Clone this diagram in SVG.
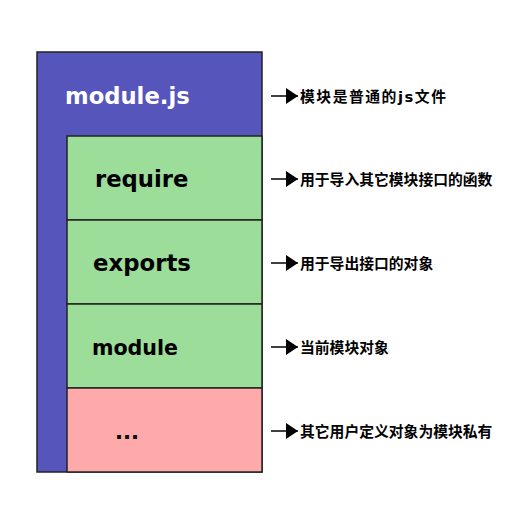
<svg xmlns="http://www.w3.org/2000/svg" width="525" height="525" viewBox="0 0 525 525">
<style>
.box{stroke:#222;stroke-width:1.5}
.lbl{font-family:"DejaVu Sans",sans-serif;font-weight:bold}
.note{font-family:"DejaVu Sans","Noto Sans CJK SC",sans-serif;font-weight:bold;font-size:14.8px;fill:#000}
.arr{stroke:#000;stroke-width:1.5;fill:none}
</style>
<defs>
<marker id="ah" viewBox="0 0 12 16" refX="12" refY="8" markerWidth="12" markerHeight="16" markerUnits="userSpaceOnUse" orient="auto">
<path d="M0,0 L12,8 L0,16 Z" fill="#000"/>
</marker>
</defs>
<rect width="525" height="525" fill="#fff"/>
<g id="module-js">
<rect class="box" x="37" y="52" width="225" height="420" fill="#5555bb"/>
<text class="lbl" x="65" y="104" font-size="22.7" fill="#fff">module.js</text>
</g>
<g id="require">
<rect class="box" x="67" y="136" width="195" height="84" fill="#9ddd9a"/>
<text class="lbl" x="95" y="187" font-size="22.7" fill="#000">require</text>
</g>
<g id="exports">
<rect class="box" x="67" y="220" width="195" height="84" fill="#9ddd9a"/>
<text class="lbl" x="93" y="271" font-size="22.8" fill="#000">exports</text>
</g>
<g id="module">
<rect class="box" x="67" y="304" width="195" height="84" fill="#9ddd9a"/>
<text class="lbl" x="92" y="355" font-size="20.6" fill="#000">module</text>
</g>
<g id="private">
<rect class="box" x="67" y="388" width="195" height="84" fill="#ffaaaa"/>
<text class="lbl" x="115" y="439" font-size="21" fill="#000">...</text>
</g>
<g id="connectors">
<line class="arr" x1="271" y1="96" x2="298" y2="96" marker-end="url(#ah)"/>
<line class="arr" x1="271" y1="179" x2="298" y2="179" marker-end="url(#ah)"/>
<line class="arr" x1="271" y1="263" x2="298" y2="263" marker-end="url(#ah)"/>
<line class="arr" x1="271" y1="347" x2="298" y2="347" marker-end="url(#ah)"/>
<line class="arr" x1="271" y1="431" x2="298" y2="431" marker-end="url(#ah)"/>
</g>
<g id="notes">
<text class="note" x="300" y="101.5" textLength="146" lengthAdjust="spacing">模块是普通的js文件</text>
<text class="note" x="300" y="184.5">用于导入其它模块接口的函数</text>
<text class="note" x="300" y="268.5">用于导出接口的对象</text>
<text class="note" x="300" y="352.5">当前模块对象</text>
<text class="note" x="300" y="436.5">其它用户定义对象为模块私有</text>
</g>
</svg>
